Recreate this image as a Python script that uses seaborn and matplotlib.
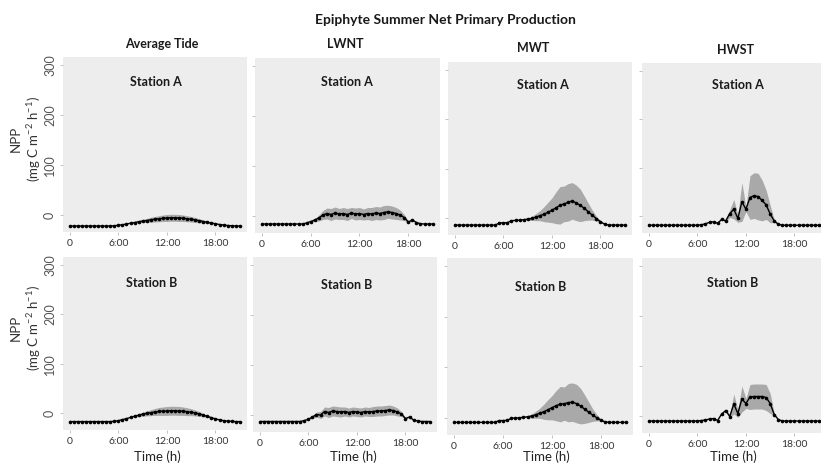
import numpy as np
import pandas as pd
import matplotlib
matplotlib.use("Agg")
import matplotlib.pyplot as plt
import seaborn as sns

# time of day (h), half-hour steps
hours = [0, 0.5, 1, 1.5, 2, 2.5, 3, 3.5, 4, 4.5, 5, 5.5, 6, 6.5, 7, 7.5,
         8, 8.5, 9, 9.5, 10, 10.5, 11, 11.5, 12, 12.5, 13, 13.5, 14, 14.5,
         15, 15.5, 16, 16.5, 17, 17.5, 18, 18.5, 19, 19.5, 20, 20.5, 21]

tides = ["Average Tide", "LWNT", "MWT", "HWST"]
stations = ["Station A", "Station B"]

# mean NPP and spread (mg C m-2 h-1), station A
avg_a_mean = [-22, -22, -22, -22, -22, -22, -22, -22, -22, -22, -22, -21.5,
              -20.5, -19.5, -18, -16.5, -15, -13.5, -12, -11, -9.5, -8.5,
              -7.5, -6.5, -6, -5.5, -5.5, -6, -6.5, -7.5, -8.5, -10,
              -11.5, -13, -14.5, -16, -17.5, -19, -20, -21, -21.5, -22, -22]
avg_a_sd = [0, 0, 0, 0, 0, 0, 0, 0, 0, 0, 0, 0, 0, 0, 0, 0,
            1, 2, 3, 4, 5, 5.5, 6, 6.5, 7, 7, 7, 7, 6.5, 6, 5.5, 5,
            4, 3, 2, 1, 0, 0, 0, 0, 0, 0, 0]

lwnt_a_mean = [-16, -16, -16, -16, -16, -16, -16, -16, -16, -16, -16, -14,
               -11, -8, -4, 2, 5, 3, 6, 4, 5, 3, 6, 4, 5, 3, 5, 4, 6, 5,
               7, 8.5, 7, 5, 2, -3, -12, -8, -13, -15.5, -16, -16, -16]
lwnt_a_sd = [0, 0, 0, 0, 0, 0, 0, 0, 0, 0, 0, 0, 0, 3, 6, 9,
             11, 12, 12, 11, 12, 12, 11, 12, 12, 11, 12, 13, 13, 13,
             14, 13, 13, 12, 10, 6, 2, 0, 0, 0, 0, 0, 0]

mwt_a_mean = [-14, -14, -14, -14, -14, -14, -14, -14, -14, -14, -14, -9.5,
              -9.5, -9, -5, -4.5, -4, -3, -2, -0.5, 2, 5, 8, 12, 16, 21,
              26, 29, 32, 35, 31, 26, 20, 13, 6, -1, -7, -12, -14, -14,
              -14, -14, -14]
mwt_a_sd = [0, 0, 0, 0, 0, 0, 0, 0, 0, 0, 0, 0, 0, 0, 0, 0, 0, 0,
            2, 4, 7, 10, 15, 20, 25, 32, 38, 36, 38, 37, 36, 33,
            25, 17, 10, 5, 2, 0, 0, 0, 0, 0, 0]

hwst_a_mean = [-18, -18, -18, -18, -18, -18, -18, -18, -18, -18, -18, -18,
               -18, -17, -15, -12, -11, -14, -6, -9, 6, 15, -4, 30, 15, 39,
               43, 41, 33, 24, 5, -9, -16, -18, -18, -18, -18, -18, -18,
               -18, -18, -18, -18]
hwst_a_sd = [0, 0, 0, 0, 0, 0, 0, 0, 0, 0, 0, 0, 0, 0, 0, 0, 0, 0,
             0, 3, 8, 20, 8, 40, 5, 45, 47, 48, 42, 30, 18, 3,
             0, 0, 0, 0, 0, 0, 0, 0, 0, 0, 0]

# station B
avg_b_mean = [-17, -17, -17, -17, -17, -17, -17, -17, -17, -17, -17, -16.5,
              -15, -13, -11, -8.5, -6, -4, -2, -0.5, 1, 2.5, 3.5, 4, 4.5, 5,
              5, 4.5, 4, 3, 2, 0.5, -1.5, -4, -6.5, -9, -11.5, -13.5, -15,
              -16, -16.5, -17, -17]
avg_b_sd = [0, 0, 0, 0, 0, 0, 0, 0, 0, 0, 0, 0, 0, 0, 0, 0,
            1, 3, 4, 5, 6, 7, 8, 8.5, 9, 9, 9, 9, 8.5, 8, 7, 6,
            5, 3, 2, 1, 0, 0, 0, 0, 0, 0, 0]

lwnt_b_mean = [-13, -13, -13, -13, -13, -13, -13, -13, -13, -13, -13, -11,
               -8.5, -4, 1, 0, 7, 5, 8, 7, 6, 7, 5, 7, 6, 5, 7, 6, 7, 8,
               8, 9, 10, 9, 6, 2, -7, -4, -10, -12, -13, -13, -13]
lwnt_b_sd = [0, 0, 0, 0, 0, 0, 0, 0, 0, 0, 0, 0, 0, 3, 5, 7,
             9, 10, 10, 10, 10, 9, 9, 9, 9, 9, 9, 9, 10, 10,
             10, 10, 10, 9, 8, 5, 2, 0, 0, 0, 0, 0, 0]

mwt_b_mean = [-9, -9, -9, -9, -9, -9, -9, -9, -9, -9, -9, -5.5,
              -5.5, -5, -1, -0.5, 0, 1, 2, 3.5, 6, 9, 12, 16, 20, 24,
              27, 28, 30, 31, 28, 23, 17, 11, 5, 0, -5, -8, -9, -9,
              -9, -9, -9]
mwt_b_sd = [0, 0, 0, 0, 0, 0, 0, 0, 0, 0, 0, 0, 0, 0, 0, 0, 0, 0,
            2, 4, 7, 10, 15, 20, 24, 30, 35, 33, 38, 38, 38, 35,
            28, 20, 12, 6, 2, 0, 0, 0, 0, 0, 0]

hwst_b_mean = [-10, -10, -10, -10, -10, -10, -10, -10, -10, -10, -10, -10,
               -10, -9, -8, -6, -5, -9, 4, 11, -1, 24, 5, 34, 25, 38,
               39, 39, 39, 37, 25, 3, -7, -10, -10, -10, -10, -10, -10,
               -10, -10, -10, -10]
hwst_b_sd = [0, 0, 0, 0, 0, 0, 0, 0, 0, 0, 0, 0, 0, 0, 0, 0, 0, 0,
             0, 2, 3, 20, 8, 26, 10, 25, 25, 25, 25, 26, 20, 2,
             0, 0, 0, 0, 0, 0, 0, 0, 0, 0, 0]

means = [[avg_a_mean, lwnt_a_mean, mwt_a_mean, hwst_a_mean],
         [avg_b_mean, lwnt_b_mean, mwt_b_mean, hwst_b_mean]]
sds = [[avg_a_sd, lwnt_a_sd, mwt_a_sd, hwst_a_sd],
       [avg_b_sd, lwnt_b_sd, mwt_b_sd, hwst_b_sd]]

# panel boxes in pixels (left, top, right, bottom) - panels were pasted by hand
boxes = [[(63, 57, 247, 232), (255, 58, 440, 233), (448, 62, 632, 235), (642, 63, 826, 233)],
         [(63, 257, 247, 430), (253, 257, 437, 432), (447, 258, 633, 435), (642, 258, 826, 433)]]
station_pos = [[(156, 82), (347, 82), (543, 85), (738, 85)],
               [(152, 283), (347, 285), (541, 287), (733, 283)]]
tide_pos = [(162, 44), (345, 44), (533, 48), (735, 50)]
time_x = [157, 353, 546, 733]

W, H = 821, 468

sns.set_theme(style="white")
plt.rcParams["font.family"] = ["Lato", "DejaVu Sans"]
plt.rcParams["mathtext.fontset"] = "custom"
plt.rcParams["mathtext.rm"] = "Lato"
plt.rcParams["mathtext.it"] = "Lato:italic"
plt.rcParams["mathtext.bf"] = "Lato:bold"

fig = plt.figure(figsize=(W / 100, H / 100), dpi=100)
fig.patch.set_facecolor("white")

t = np.array(hours)
for r in range(2):
    for c in range(4):
        x0, y0, x1, y1 = boxes[r][c]
        ax = fig.add_axes([x0 / W, 1 - y1 / H, (x1 - x0) / W, (y1 - y0) / H])
        ax.set_facecolor("#ededed")
        m = np.array(means[r][c])
        s = np.array(sds[r][c])
        ax.fill_between(t, m - s, m + s, color="#a9a9a9", lw=0)
        sns.lineplot(x=t, y=m, ax=ax, color="black", lw=1.0, marker="o",
                     markersize=2.6, markeredgewidth=0)
        ax.set_xlim(-0.85, 21.9)
        ax.set_ylim(-34, 316)
        ax.set_xticks([0, 6, 12, 18])
        ax.set_xticklabels(["0", "6:00", "12:00", "18:00"], fontsize=7.5, color="#333333")
        ax.set_yticks([0, 100, 200, 300])
        if c == 0:
            ax.set_yticklabels(["0", "100", "200", "300"], fontsize=9,
                               color="#555555", rotation=90, va="center")
        else:
            ax.set_yticklabels([])
        ax.tick_params(axis="both", length=2, width=0.5, color="#aaaaaa", pad=3)
        ax.tick_params(axis="both", which="both", bottom=True, left=True)
        ax.set_xlabel("")
        ax.set_ylabel("")
        for sp in ax.spines.values():
            sp.set_visible(False)
        sx, sy = station_pos[r][c]
        fig.text(sx / W, 1 - sy / H, stations[r], ha="center", va="center",
                 fontsize=9, fontweight="bold", color="#1a1a1a")
        if r == 1:
            fig.text(time_x[c] / W, 1 - 457 / H, "Time (h)", ha="center",
                     va="center", fontsize=9.5, color="#222222")

for c in range(4):
    tx, ty = tide_pos[c]
    fig.text(tx / W, 1 - ty / H, tides[c], ha="center", va="center",
             fontsize=9, fontweight="bold", color="#1a1a1a")

for yc in [139, 328]:
    fig.text(26 / W, 1 - yc / H, "NPP\n(mg C m$^{-2}$ h$^{-1}$)", rotation=90,
             ha="center", va="center", multialignment="center",
             fontsize=9.5, color="#333333", linespacing=1.25)

fig.text(445 / W, 1 - 20 / H, "Epiphyte Summer Net Primary Production",
         ha="center", va="center", fontsize=10, fontweight="bold", color="#1a1a1a")

fig.savefig("out.png", dpi=100)
